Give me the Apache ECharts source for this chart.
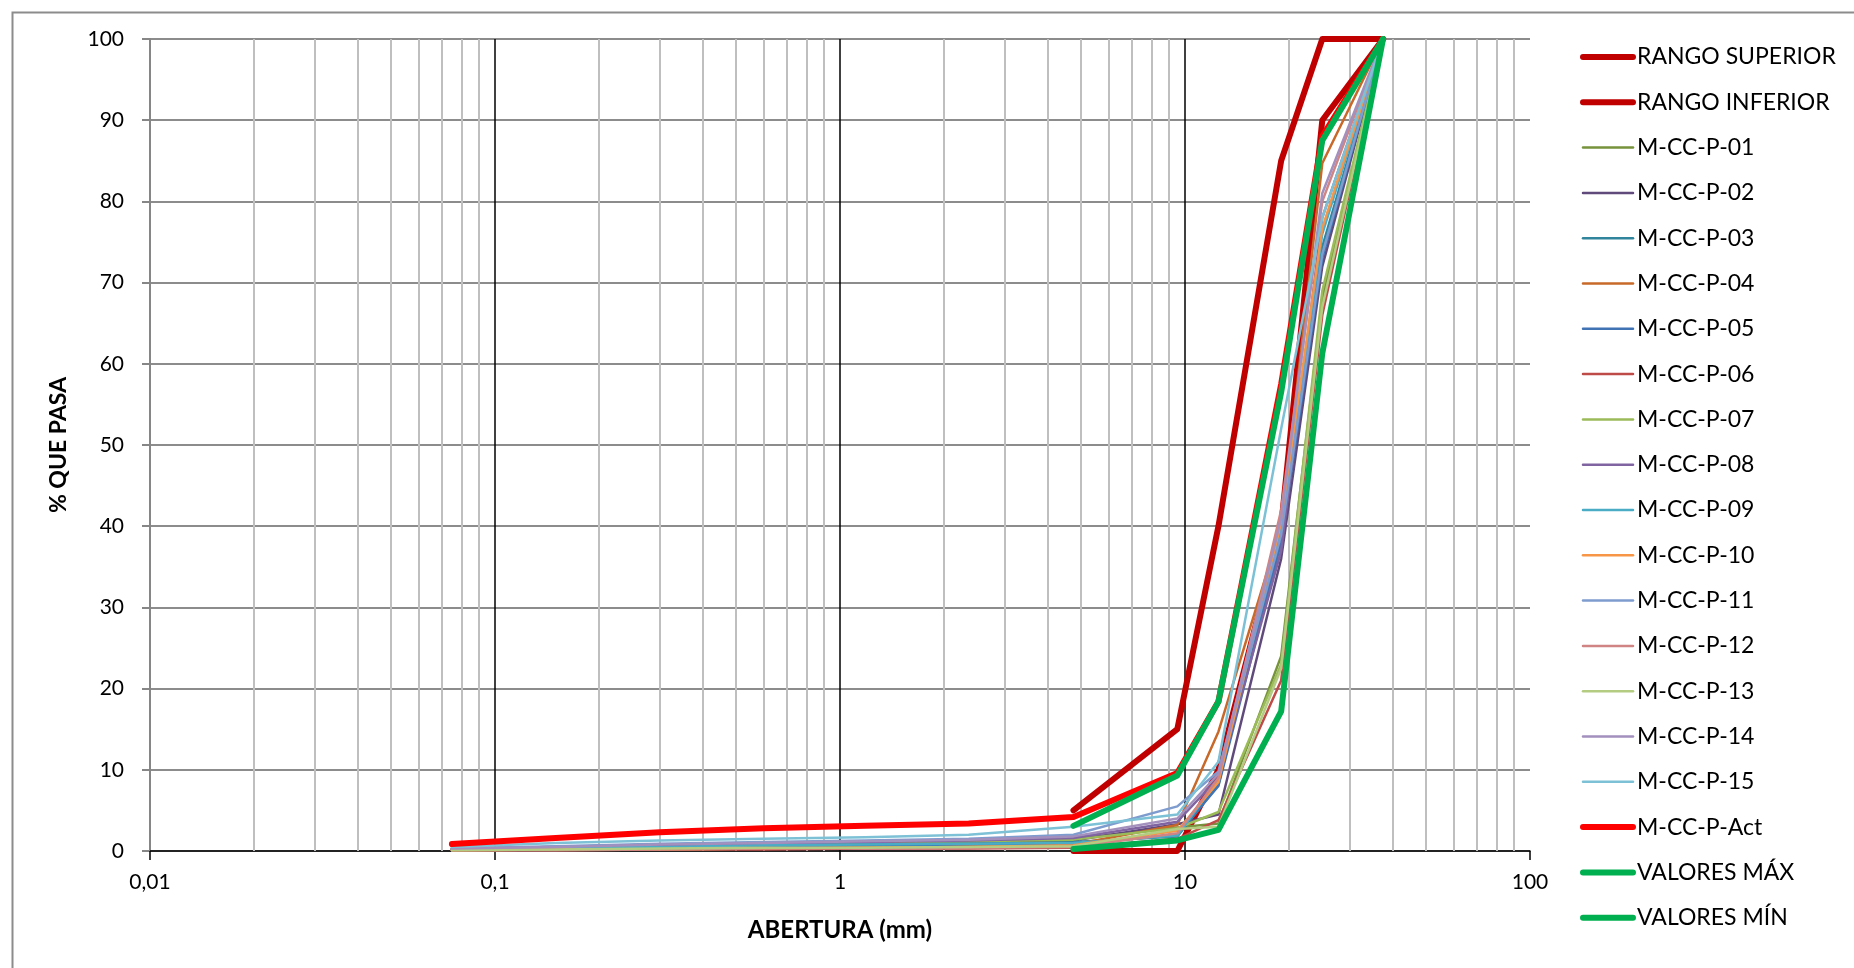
<!DOCTYPE html>
<html>
<head>
<meta charset="utf-8">
<script src="https://cdn.jsdelivr.net/npm/echarts@6/dist/echarts.min.js"></script>
<style>
  html, body { margin: 0; padding: 0; background: #fff; }
  #chart { width: 1854px; height: 968px; }
</style>
</head>
<body>
<div id="chart"></div>
<script>
// tamices (mm), de mayor a menor
const sieves = [37.5, 25, 19, 12.5, 9.5, 4.75, 2.36, 1.18, 0.6, 0.3, 0.15, 0.075];

// huso (solo hasta 4.75 mm)
const rangoSuperior = [100, 100, 85, 40, 15, 5];
const rangoInferior = [100, 90, 40, 10, 0, 0];
const valoresMax = [100, 87.5, 56.5, 18.4, 9.3, 3.1];
const valoresMin = [100, 61.3, 17.2, 2.6, 1.3, 0.25];

// muestras
const pAct = [100, 88, 57.5, 18.4, 9.6, 4.2, 3.4, 3.1, 2.8, 2.3, 1.6, 0.85];
const p01 = [100, 68, 24, 3.4, 2.9, 1.5, 1.3, 1.2, 1.0, 0.8, 0.5, 0.3];
const p02 = [100, 72, 36, 4.5, 3.3, 1.3, 1.0, 0.9, 0.8, 0.6, 0.4, 0.2];
const p03 = [100, 74.4, 39, 8.2, 1.8, 1.1, 0.9, 0.8, 0.7, 0.5, 0.3, 0.2];
const p04 = [100, 84.7, 40, 14.7, 3.2, 0.8, 0.6, 0.5, 0.4, 0.3, 0.2, 0.1];
const p05 = [100, 73, 38, 8, 2.0, 0.9, 0.8, 0.7, 0.6, 0.5, 0.3, 0.2];
const p06 = [100, 66, 21, 3.8, 1.5, 0.4, 0.3, 0.3, 0.2, 0.2, 0.1, 0.1];
const p07 = [100, 69, 23, 4.8, 2.8, 1.4, 1.2, 1.1, 0.9, 0.7, 0.5, 0.3];
const p08 = [100, 78, 37, 9, 3.6, 1.6, 1.3, 1.1, 0.9, 0.7, 0.5, 0.3];
const p09 = [100, 76, 40, 8.8, 1.9, 1.0, 0.9, 0.8, 0.7, 0.5, 0.4, 0.2];
const p10 = [100, 76.7, 40.5, 8.5, 2.5, 0.7, 0.5, 0.4, 0.3, 0.2, 0.2, 0.1];
const p11 = [100, 73.5, 39, 9.8, 5.5, 2.0, 1.5, 1.3, 1.1, 0.9, 0.6, 0.3];
const p12 = [100, 80, 42, 9, 2.2, 0.5, 0.4, 0.3, 0.3, 0.2, 0.1, 0.1];
const p13 = [100, 67, 22.5, 3.0, 2.7, 0.6, 0.5, 0.4, 0.4, 0.3, 0.2, 0.1];
const p14 = [100, 81, 41, 9.5, 4.0, 1.8, 1.4, 1.2, 1.0, 0.8, 0.5, 0.3];
const p15 = [100, 78, 52, 11, 4.5, 3.0, 2.0, 1.7, 1.5, 1.3, 1.0, 0.5];

// lineas de rejilla logaritmica
const majorGrid = [0.1, 1, 10];
const minorGrid = [0.02, 0.03, 0.04, 0.05, 0.06, 0.07, 0.08, 0.09,
                   0.2, 0.3, 0.4, 0.5, 0.6, 0.7, 0.8, 0.9,
                   2, 3, 4, 5, 6, 7, 8, 9,
                   20, 30, 40, 50, 60, 70, 80, 90];

const FONT = 'Lato';

// icono de leyenda: solo la linea, sin marcador
function lineIcon(color, width) {
    const c = color.replace('#', '%23');
    return 'image://data:image/svg+xml;utf8,<svg xmlns="http://www.w3.org/2000/svg" width="56" height="12">' +
        '<line x1="3" y1="6" x2="53" y2="6" stroke="' + c + '" stroke-width="' + width + '" stroke-linecap="round"/></svg>';
}

function curve(name, values, color, width) {
    return {
        name: name,
        type: 'line',
        data: values.map((v, i) => [sieves[i], v]),
        symbol: 'none',
        smooth: false,
        z: 3,
        lineStyle: { color: color, width: width, cap: 'round', join: 'round' },
        itemStyle: { color: color },
        emphasis: { disabled: true },
        legendColor: color,
        legendWidth: width
    };
}

const series = [
    {
        name: 'grid',
        type: 'line',
        data: [],
        silent: true,
        z: 1,
        markLine: {
            silent: true,
            symbol: 'none',
            z: 1,
            label: { show: false },
            animation: false,
            lineStyle: { color: '#BFBFBF', width: 2, type: 'solid' },
            data: minorGrid.map(v => ({ xAxis: v }))
        }
    },
    {
        name: 'grid2',
        type: 'line',
        data: [],
        silent: true,
        z: 1,
        markLine: {
            silent: true,
            symbol: 'none',
            z: 1,
            label: { show: false },
            animation: false,
            lineStyle: { color: '#000000', width: 1.5, type: 'solid' },
            data: majorGrid.map(v => ({ xAxis: v }))
        }
    },
    curve('RANGO SUPERIOR', rangoSuperior, '#C00000', 6),
    curve('RANGO INFERIOR', rangoInferior, '#C00000', 6),
    curve('M-CC-P-01', p01, '#77933C', 2.5),
    curve('M-CC-P-02', p02, '#604A7B', 2.5),
    curve('M-CC-P-03', p03, '#31859C', 2.5),
    curve('M-CC-P-04', p04, '#C8692A', 2.5),
    curve('M-CC-P-05', p05, '#4073B3', 2.5),
    curve('M-CC-P-06', p06, '#BE4B48', 2.5),
    curve('M-CC-P-07', p07, '#9BBB59', 2.5),
    curve('M-CC-P-08', p08, '#8064A2', 2.5),
    curve('M-CC-P-09', p09, '#4BACC6', 2.5),
    curve('M-CC-P-10', p10, '#F79646', 2.5),
    curve('M-CC-P-11', p11, '#7F9CCF', 2.5),
    curve('M-CC-P-12', p12, '#D08584', 2.5),
    curve('M-CC-P-13', p13, '#B3CC82', 2.5),
    curve('M-CC-P-14', p14, '#A390BD', 2.5),
    curve('M-CC-P-15', p15, '#7CC1D6', 2.5),
    curve('M-CC-P-Act', pAct, '#FF0000', 6),
    curve('VALORES MÁX', valoresMax, '#00B050', 6),
    curve('VALORES MÍN', valoresMin, '#00B050', 6)
];

const legendData = series.slice(2).map(s => ({
    name: s.name,
    icon: lineIcon(s.legendColor, s.legendWidth)
}));
series.forEach(s => { delete s.legendColor; delete s.legendWidth; });

const chart = echarts.init(document.getElementById('chart'), null, { renderer: 'canvas' });

const option = {
    backgroundColor: '#fff',
    animation: false,
    textStyle: { fontFamily: FONT },
    grid: { left: 150, right: 324, top: 39, bottom: 117, containLabel: false },
    graphic: [
        {
            type: 'rect',
            left: 10, top: 10,
            shape: { x: 0, y: 0, width: 1900, height: 1000 },
            style: { fill: 'none', stroke: '#8C8C8C', lineWidth: 2 },
            z: -10, silent: true
        }
    ],
    legend: {
        orient: 'vertical',
        left: 1575,
        top: 39,
        data: legendData,
        itemWidth: 56,
        itemHeight: 12,
        itemGap: 19.3,
        selectedMode: false,
        textStyle: { color: '#000', fontSize: 23, fontFamily: FONT, lineHeight: 26, padding: [0, 0, 0, -4] }
    },
    xAxis: {
        type: 'log',
        logBase: 10,
        min: 0.01,
        max: 100,
        name: 'ABERTURA (mm)',
        nameLocation: 'middle',
        nameGap: 67,
        nameTextStyle: { color: '#000', fontSize: 24, fontWeight: 'bold', fontFamily: FONT },
        axisLine: { show: true, onZero: false, lineStyle: { color: '#000', width: 1.5 } },
        axisTick: { show: true, length: 9, lineStyle: { color: '#000', width: 1.5 } },
        axisLabel: {
            color: '#000', fontSize: 21, margin: 21, fontFamily: FONT,
            formatter: v => String(Number(v.toPrecision(6))).replace('.', ',')
        },
        splitLine: { show: false },
        minorTick: { show: false },
        minorSplitLine: { show: false }
    },
    yAxis: {
        type: 'value',
        min: 0,
        max: 100,
        interval: 10,
        name: '% QUE PASA',
        nameLocation: 'middle',
        nameGap: 80,
        nameRotate: 90,
        nameTextStyle: { color: '#000', fontSize: 23, fontWeight: 'bold', fontFamily: FONT },
        axisLine: { show: true, lineStyle: { color: '#868686', width: 2 } },
        axisTick: { show: true, length: 8, lineStyle: { color: '#868686', width: 2 } },
        axisLabel: { color: '#000', fontSize: 21, margin: 26, fontFamily: FONT },
        splitLine: { show: true, lineStyle: { color: '#8C8C8C', width: 2 } }
    },
    series: series
};

chart.setOption(option);
window.addEventListener('resize', () => chart.resize());
</script>
</body>
</html>
